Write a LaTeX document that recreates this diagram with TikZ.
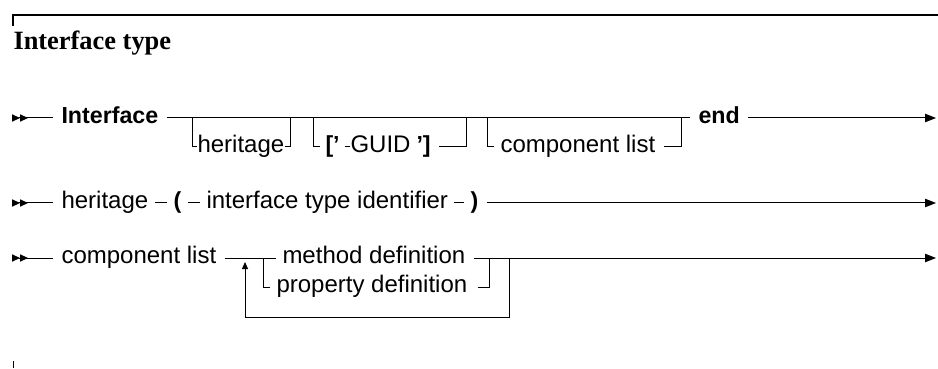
\documentclass[tikz,border=0pt]{standalone}
\usepackage{fontspec}
\setmainfont{Liberation Serif}
\setsansfont{Liberation Sans}
\usetikzlibrary{arrows.meta,calc}

\begin{document}
\begin{tikzpicture}[x=0.5pt,y=-0.5pt,line width=0.5pt,
	item/.style={inner sep=0pt,anchor=west,text height=8pt,text depth=2.5pt,
		font=\sffamily\fontsize{12}{14}\selectfont},
	kw/.style={item,font=\sffamily\bfseries\fontsize{11.6}{14}\selectfont},
	start/.style={{Triangle[reversed,length=4pt,width=3.6pt]Triangle[reversed,length=4pt,width=3.6pt]}-,shorten >=4pt},
	finish/.style={-{Triangle[length=5.5pt,width=4.2pt]}},
	link/.style={shorten <=3pt,shorten >=3pt}]

\useasboundingbox (0,0) rectangle (938,369);

% frame and title
\draw[line width=0.65pt] (13,26)--(13,15)--(938,15);
\draw (13,361)--(13,368);
\node[anchor=base west,inner sep=0pt,font=\bfseries\fontsize{13.2}{15}\selectfont]
	(title) at (13,50) {Interface type};

% Interface ... end
\coordinate (s1) at (12,118);
\coordinate (e1) at (936,118);
\node[kw] (iface) at (61,118) {Interface};
\node[kw] (endkw) at (698,118) {end};

\coordinate (j1) at (192,118);
\coordinate (j2) at (290,118);
\coordinate (j3) at (313,118);
\coordinate (j4) at (466,118);
\coordinate (j5) at (487,118);
\coordinate (j6) at (681,118);

\node[item] (herit) at (197,147) {heritage};
\node[kw] (gopen) at (325,147) {['};
\node[item] (guid) at (350,147) {GUID};
\node[kw] (gclose) at (416,147) {']};
\node[item] (comp) at (500,147) {component list};

\draw[start] (s1)--(iface.west);
\draw[shorten <=4pt,shorten >=4pt] (iface.east)--(endkw.west);
\draw[finish,shorten <=4pt] (endkw.east)--(e1);

\draw (j1) |- (herit.west);
\draw (herit.east) -| (j2);
\draw[shorten >=2.5pt] (j3) |- (gopen.west);
\draw[shorten <=2.5pt] (gopen.east)--(guid.west);
\draw[shorten <=4pt] (gclose.east) -| (j4);
\draw[shorten >=3pt] (j5) |- (comp.west);
\draw[shorten <=4pt] (comp.east) -| (j6);

% heritage
\coordinate (s2) at (12,203);
\coordinate (e2) at (936,203);
\node[item] (herit2) at (61,203) {heritage};
\node[kw] (lpar) at (173,203) {(};
\node[item] (ident) at (206,203) {interface type identifier};
\node[kw] (rpar) at (470,203) {)};

\draw[start] (s2)--(herit2.west);
\draw[link] (herit2.east)--(lpar.west);
\draw[link] (lpar.east)--(ident.west);
\draw[link] (ident.east)--(rpar.west);
\draw[finish,shorten <=4pt] (rpar.east)--(e2);

% component list
\coordinate (s3) at (12,258);
\coordinate (e3) at (936,258);
\coordinate (loopin) at (245,258);
\coordinate (altin) at (263,258);
\coordinate (altout) at (489,258);
\coordinate (loopout) at (509,258);
\coordinate (loopbot) at (509,317);
\node[item] (complist) at (61,258) {component list};
\node[item] (method) at (282,258) {method definition};
\node[item] (prop) at (276,287) {property definition};

\draw[start] (s3)--(complist.west);
\draw[shorten <=4pt] (complist.east)--(altin);
\draw[shorten >=3pt] (altin)--(method.west);
\draw[shorten >=3pt] (altin) |- (prop.west);
\draw[shorten <=4pt] (method.east)--(altout);
\draw[shorten <=5pt] (prop.east) -| (altout);
\draw[finish] (altout)--(e3);
\draw[-{Triangle[length=3.5pt,width=3pt]},shorten >=2pt] (loopout)--(loopbot) -| (loopin);

\end{tikzpicture}
\end{document}
